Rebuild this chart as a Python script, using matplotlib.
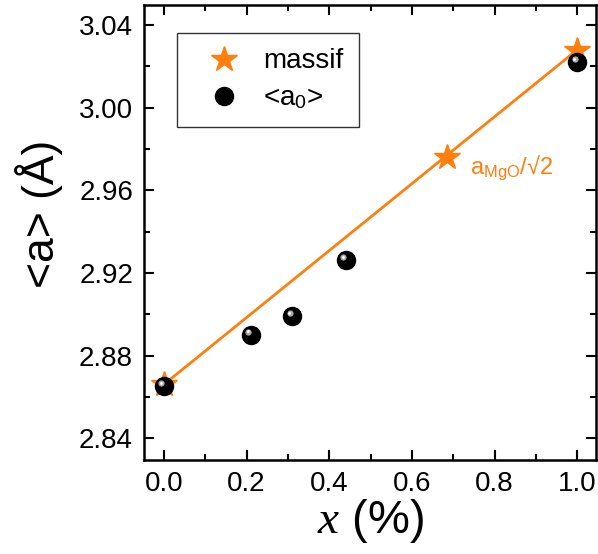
import numpy as np
import matplotlib.pyplot as plt
from matplotlib.ticker import MultipleLocator

plt.rcParams['font.family'] = ['Liberation Sans', 'DejaVu Sans']
plt.rcParams['mathtext.fontset'] = 'custom'
plt.rcParams['mathtext.it'] = 'Liberation Serif:italic'
plt.rcParams['mathtext.rm'] = 'Liberation Sans'

# bulk (massif) values and measured <a0>
x_bulk = [0.0, 0.685, 1.0]
a_bulk = [2.866, 2.976, 3.028]
x_a0 = [0.0, 0.21, 0.31, 0.44, 1.0]
a_a0 = [2.865, 2.890, 2.899, 2.926, 3.022]

orange = '#FF7F0E'

fig = plt.figure(figsize=(5.98, 5.54), dpi=100)
ax = fig.add_axes([0.241, 0.170, 0.756, 0.821])

# line through the two end points of the bulk values
ax.plot([x_bulk[0], x_bulk[-1]], [a_bulk[0], a_bulk[-1]], color=orange, lw=2, zorder=2)
ax.plot(x_bulk, a_bulk, ls='none', marker='*', ms=19, color=orange, mec=orange,
        zorder=3, label='massif')

# "sphere" look: black ball plus a small grey highlight
ax.plot(x_a0, a_a0, ls='none', marker='o', ms=13, color='black', zorder=4, label='<a$_0$>')
ax.plot(np.array(x_a0) - 0.006, np.array(a_a0) + 0.0015, ls='none', marker='o', ms=4.5,
        color='#aaaaaa', mec='none', zorder=5)
ax.plot(np.array(x_a0) - 0.007, np.array(a_a0) + 0.0017, ls='none', marker='o', ms=2,
        color='white', mec='none', zorder=6)

ax.text(0.74, 2.968, 'a$_{\\mathrm{MgO}}$/√2', color=orange, fontsize=17)

ax.set_xlim(-0.048, 1.046)
ax.set_ylim(2.8295, 3.0497)
ax.xaxis.set_major_locator(MultipleLocator(0.2))
ax.xaxis.set_minor_locator(MultipleLocator(0.1))
ax.yaxis.set_major_locator(MultipleLocator(0.04))
ax.yaxis.set_minor_locator(MultipleLocator(0.02))
ax.xaxis.set_major_formatter(plt.FormatStrFormatter('%.1f'))
ax.yaxis.set_major_formatter(plt.FormatStrFormatter('%.2f'))
ax.tick_params(which='both', direction='in', top=True, right=True, width=1.5, labelsize=20)
ax.tick_params(which='major', length=7, pad=8)
ax.tick_params(which='minor', length=4)
for s in ax.spines.values():
    s.set_linewidth(1.8)

ax.set_xlabel('$x$ (%)', fontsize=34, labelpad=0)
ax.set_ylabel('<a> (Å)', fontsize=32, labelpad=4)
ax.yaxis.set_label_coords(-0.18, 0.54)

leg = ax.legend(loc='upper left', bbox_to_anchor=(0.073, 0.938), fontsize=20, frameon=True,
                fancybox=False, edgecolor='black', borderpad=0.55, handlelength=2.3,
                handletextpad=0.25, labelspacing=0.4, borderaxespad=0)
leg.get_frame().set_linewidth(1)

fig.savefig('out.png', dpi=100)
